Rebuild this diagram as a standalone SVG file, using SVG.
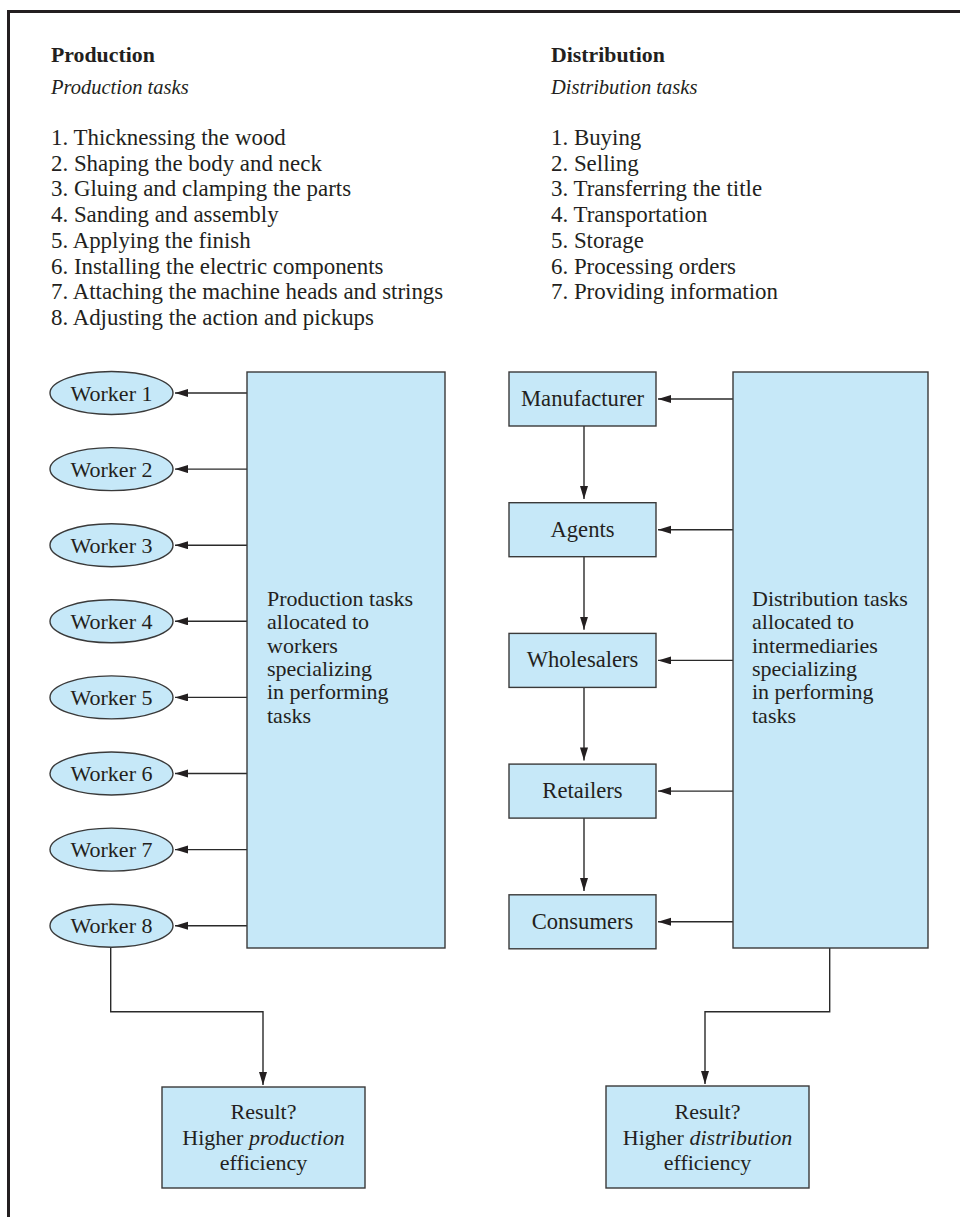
<svg xmlns="http://www.w3.org/2000/svg" width="960" height="1217" viewBox="0 0 960 1217">
  <style>
    text { font-family: "Liberation Serif", "Times New Roman", serif; fill: #231f20; font-size: 22px; }
    .head { font-weight: bold; font-size: 21.8px; }
    .sub { font-style: italic; font-size: 20.5px; }
    .list { font-size: 22.9px; }
    .label { font-size: 22.6px; }
    .it { font-style: italic; }
    .mid { text-anchor: middle; }
    .node { fill: #c6e8f8; stroke: #3a3a3a; stroke-width: 1.4; }
    .wire { fill: none; stroke: #2a2a2a; stroke-width: 1.4; }
    .frame { fill: none; stroke: #231f20; stroke-width: 3; }
  </style>
  <defs>
    <marker id="arrow" markerUnits="userSpaceOnUse" markerWidth="14" markerHeight="10" refX="13" refY="4" orient="auto">
      <path d="M0,0 L13,4 L0,8 Z" fill="#231f20"/>
    </marker>
  </defs>

  <rect width="960" height="1217" fill="#ffffff"/>
  <!-- frame: top and left rules -->
  <path class="frame" d="M8.5,1217 L8.5,11.5 L960,11.5"/>

  <!-- production task list -->
  <g id="production-list">
    <text class="head" x="51" y="62">Production</text>
    <text class="sub" x="51" y="94">Production tasks</text>
    <text class="list" x="51" y="145">1. Thicknessing the wood</text>
    <text class="list" x="51" y="170.7">2. Shaping the body and neck</text>
    <text class="list" x="51" y="196.4">3. Gluing and clamping the parts</text>
    <text class="list" x="51" y="222.1">4. Sanding and assembly</text>
    <text class="list" x="51" y="247.8">5. Applying the finish</text>
    <text class="list" x="51" y="273.5">6. Installing the electric components</text>
    <text class="list" x="51" y="299.2">7. Attaching the machine heads and strings</text>
    <text class="list" x="51" y="324.9">8. Adjusting the action and pickups</text>
  </g>

  <!-- distribution task list -->
  <g id="distribution-list">
    <text class="head" x="551" y="62">Distribution</text>
    <text class="sub" x="551" y="94">Distribution tasks</text>
    <text class="list" x="551" y="145">1. Buying</text>
    <text class="list" x="551" y="170.7">2. Selling</text>
    <text class="list" x="551" y="196.4">3. Transferring the title</text>
    <text class="list" x="551" y="222.1">4. Transportation</text>
    <text class="list" x="551" y="247.8">5. Storage</text>
    <text class="list" x="551" y="273.5">6. Processing orders</text>
    <text class="list" x="551" y="299.2">7. Providing information</text>
  </g>

  <!-- connectors -->
  <g id="connectors">
    <path class="wire" marker-end="url(#arrow)" d="M247,393 L175,393"/>
    <path class="wire" marker-end="url(#arrow)" d="M247,469.1 L175,469.1"/>
    <path class="wire" marker-end="url(#arrow)" d="M247,545.2 L175,545.2"/>
    <path class="wire" marker-end="url(#arrow)" d="M247,621.3 L175,621.3"/>
    <path class="wire" marker-end="url(#arrow)" d="M247,697.4 L175,697.4"/>
    <path class="wire" marker-end="url(#arrow)" d="M247,773.5 L175,773.5"/>
    <path class="wire" marker-end="url(#arrow)" d="M247,849.6 L175,849.6"/>
    <path class="wire" marker-end="url(#arrow)" d="M247,925.7 L175,925.7"/>
    <path class="wire" marker-end="url(#arrow)" d="M110.7,947.2 L110.7,1011.7 L263,1011.7 L263,1085"/>

    <path class="wire" marker-end="url(#arrow)" d="M733,399 L658,399"/>
    <path class="wire" marker-end="url(#arrow)" d="M733,529.7 L658,529.7"/>
    <path class="wire" marker-end="url(#arrow)" d="M733,660.4 L658,660.4"/>
    <path class="wire" marker-end="url(#arrow)" d="M733,791.1 L658,791.1"/>
    <path class="wire" marker-end="url(#arrow)" d="M733,921.8 L658,921.8"/>
    <path class="wire" marker-end="url(#arrow)" d="M584,426 L584,499"/>
    <path class="wire" marker-end="url(#arrow)" d="M584,556.7 L584,629.7"/>
    <path class="wire" marker-end="url(#arrow)" d="M584,687.4 L584,760.4"/>
    <path class="wire" marker-end="url(#arrow)" d="M584,818.1 L584,891.1"/>
    <path class="wire" marker-end="url(#arrow)" d="M829.7,948 L829.7,1011.7 L705,1011.7 L705,1084"/>
  </g>

  <!-- production side -->
  <g id="production-tasks">
    <rect class="node" x="247" y="372" width="198" height="576"/>
    <text x="267" y="606">Production tasks</text>
    <text x="267" y="629.3">allocated to</text>
    <text x="267" y="652.6">workers</text>
    <text x="267" y="675.9">specializing</text>
    <text x="267" y="699.2">in performing</text>
    <text x="267" y="722.5">tasks</text>
  </g>
  <g id="worker-1"><ellipse class="node" cx="111.5" cy="393" rx="61.5" ry="21.5"/><text class="mid" x="111.5" y="400.5">Worker 1</text></g>
  <g id="worker-2"><ellipse class="node" cx="111.5" cy="469.1" rx="61.5" ry="21.5"/><text class="mid" x="111.5" y="476.6">Worker 2</text></g>
  <g id="worker-3"><ellipse class="node" cx="111.5" cy="545.2" rx="61.5" ry="21.5"/><text class="mid" x="111.5" y="552.7">Worker 3</text></g>
  <g id="worker-4"><ellipse class="node" cx="111.5" cy="621.3" rx="61.5" ry="21.5"/><text class="mid" x="111.5" y="628.8">Worker 4</text></g>
  <g id="worker-5"><ellipse class="node" cx="111.5" cy="697.4" rx="61.5" ry="21.5"/><text class="mid" x="111.5" y="704.9">Worker 5</text></g>
  <g id="worker-6"><ellipse class="node" cx="111.5" cy="773.5" rx="61.5" ry="21.5"/><text class="mid" x="111.5" y="781">Worker 6</text></g>
  <g id="worker-7"><ellipse class="node" cx="111.5" cy="849.6" rx="61.5" ry="21.5"/><text class="mid" x="111.5" y="857.1">Worker 7</text></g>
  <g id="worker-8"><ellipse class="node" cx="111.5" cy="925.7" rx="61.5" ry="21.5"/><text class="mid" x="111.5" y="933.2">Worker 8</text></g>
  <g id="production-result">
    <rect class="node" x="162" y="1087" width="203" height="101"/>
    <text class="mid" x="263.5" y="1119">Result?</text>
    <text class="mid" x="263.5" y="1145">Higher <tspan class="it">production</tspan></text>
    <text class="mid" x="263.5" y="1170">efficiency</text>
  </g>

  <!-- distribution side -->
  <g id="distribution-tasks">
    <rect class="node" x="733" y="372" width="195" height="576"/>
    <text x="752" y="606">Distribution tasks</text>
    <text x="752" y="629.3">allocated to</text>
    <text x="752" y="652.6">intermediaries</text>
    <text x="752" y="675.9">specializing</text>
    <text x="752" y="699.2">in performing</text>
    <text x="752" y="722.5">tasks</text>
  </g>
  <g id="manufacturer"><rect class="node" x="509" y="372" width="147" height="54"/><text class="mid label" x="582.5" y="406">Manufacturer</text></g>
  <g id="agents"><rect class="node" x="509" y="502.7" width="147" height="54"/><text class="mid label" x="582.5" y="536.7">Agents</text></g>
  <g id="wholesalers"><rect class="node" x="509" y="633.4" width="147" height="54"/><text class="mid label" x="582.5" y="667.4">Wholesalers</text></g>
  <g id="retailers"><rect class="node" x="509" y="764.1" width="147" height="54"/><text class="mid label" x="582.5" y="798.1">Retailers</text></g>
  <g id="consumers"><rect class="node" x="509" y="894.8" width="147" height="54"/><text class="mid label" x="582.5" y="928.8">Consumers</text></g>
  <g id="distribution-result">
    <rect class="node" x="606" y="1086" width="203" height="102"/>
    <text class="mid" x="707.5" y="1119">Result?</text>
    <text class="mid" x="707.5" y="1145">Higher <tspan class="it">distribution</tspan></text>
    <text class="mid" x="707.5" y="1170">efficiency</text>
  </g>
</svg>
